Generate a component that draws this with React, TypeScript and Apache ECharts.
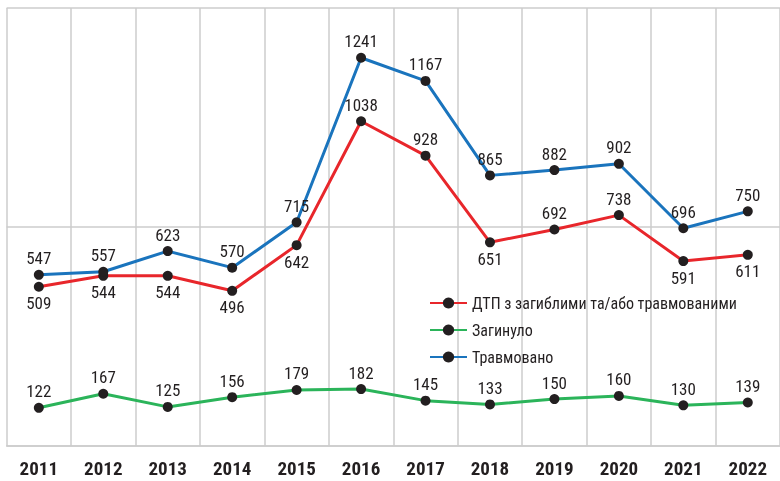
import React, { useEffect, useRef } from "react";
import * as echarts from "echarts";

const years = ["2011", "2012", "2013", "2014", "2015", "2016", "2017", "2018", "2019", "2020", "2021", "2022"];
const accidents = [509, 544, 544, 496, 642, 1038, 928, 651, 692, 738, 591, 611];
const killed = [122, 167, 125, 156, 179, 182, 145, 133, 150, 160, 130, 139];
const injured = [547, 557, 623, 570, 715, 1241, 1167, 865, 882, 902, 696, 750];
const accidentsLabelPos = ["bottom", "bottom", "bottom", "bottom", "bottom", "top", "top", "bottom", "top", "top", "bottom", "bottom"];

const FONT = "'Roboto Condensed', 'Liberation Sans Narrow', 'DejaVu Sans Condensed', Roboto, sans-serif";
const TEXT = "#231f20";
const GRID = "#cccccc";

export default function App() {
  const ref = useRef<HTMLDivElement>(null);
  useEffect(() => {
    document.body.style.margin = "0";
    const chart = echarts.init(ref.current!, undefined, { renderer: "svg" });
    const baseSeries = (name: string, data: any[], color: string) => ({
      name,
      type: "line",
      data,
      symbol: "circle",
      symbolSize: 10,
      lineStyle: { color, width: 3 },
      itemStyle: { color: TEXT },
      label: { show: true, position: "top", color: TEXT, fontSize: 17, fontFamily: FONT, distance: 3 },
      emphasis: { disabled: true },
    });
    chart.setOption({
      animation: false,
      textStyle: { fontFamily: FONT },
      grid: { left: 6.6, width: 777.8, top: 8, bottom: 35, containLabel: false },
      legend: {
        orient: "vertical",
        left: 424,
        top: 290,
        itemWidth: 37,
        itemHeight: 14,
        itemGap: 11,
        textStyle: { fontSize: 16, color: TEXT, fontFamily: FONT },
        data: ["ДТП з загиблими та/або травмованими", "Загинуло", "Травмовано"],
      },
      xAxis: {
        type: "category",
        data: years,
        boundaryGap: true,
        axisLine: { show: true, lineStyle: { color: GRID, width: 1.5 } },
        axisTick: { show: false },
        axisLabel: { color: TEXT, fontSize: 19, lineHeight: 19, fontWeight: "bold", fontFamily: FONT, margin: 13 },
        splitLine: { show: true, lineStyle: { color: GRID, width: 1.5 } },
      },
      yAxis: {
        type: "value",
        min: 0,
        max: 1400,
        interval: 700,
        axisLabel: { show: false },
        axisLine: { show: false },
        axisTick: { show: false },
        splitLine: { show: true, lineStyle: { color: GRID, width: 1.5 } },
      },
      series: [
        baseSeries(
          "ДТП з загиблими та/або травмованими",
          accidents.map((v, i) => ({ value: v, label: { position: accidentsLabelPos[i] } })),
          "#e8262b"
        ),
        baseSeries("Загинуло", killed, "#2bb45a"),
        baseSeries("Травмовано", injured, "#1a74bd"),
      ],
    });
    return () => chart.dispose();
  }, []);
  return <div ref={ref} style={{ position: "fixed", left: 0, top: 0, width: 780, height: 481 }} />;
}
